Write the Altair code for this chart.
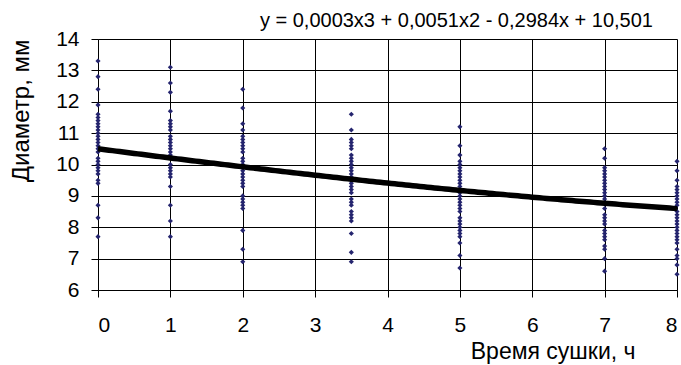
import altair as alt
import pandas as pd

# time points (h)
times = [0, 1, 2, 3.5, 5, 7, 8]

# diameters (mm) read at each time point
d_0 = [13.3, 12.8, 12.4, 11.9, 11.6, 11.5, 11.4, 11.3, 11.2, 11.1, 11.0, 10.9, 10.8, 10.7,
       10.6, 10.5, 10.4, 10.2, 10.1, 10.0, 9.9, 9.8, 9.7, 9.5, 9.4, 8.7, 8.3, 7.7]
d_1 = [13.1, 12.6, 12.3, 11.7, 11.4, 11.3, 11.2, 11.1, 10.9, 10.8, 10.7, 10.6, 10.5, 10.4,
       10.3, 10.2, 10.0, 9.9, 9.8, 9.7, 9.6, 9.3, 8.7, 8.2, 7.7]
d_2 = [12.4, 11.8, 11.3, 11.1, 10.9, 10.8, 10.7, 10.6, 10.5, 10.4, 10.2, 10.1, 10.0, 9.9,
       9.8, 9.7, 9.6, 9.5, 9.4, 9.3, 9.0, 8.9, 8.8, 8.7, 8.6, 7.9, 7.3, 6.9]
d_35 = [11.6, 11.1, 10.8, 10.7, 10.6, 10.5, 10.3, 10.2, 10.1, 10.0, 9.9, 9.8, 9.7, 9.6,
        9.5, 9.4, 9.3, 9.2, 9.1, 8.9, 8.8, 8.7, 8.5, 8.4, 8.3, 8.2, 7.8, 7.2, 6.9]
d_5 = [11.2, 10.6, 10.3, 10.1, 10.0, 9.9, 9.8, 9.7, 9.6, 9.5, 9.4, 9.3, 9.2, 9.1, 9.0,
       8.9, 8.8, 8.7, 8.6, 8.5, 8.3, 8.2, 8.1, 8.0, 7.9, 7.8, 7.7, 7.5, 7.1, 6.7]
d_7 = [10.5, 10.2, 9.9, 9.8, 9.7, 9.6, 9.5, 9.4, 9.3, 9.2, 9.1, 9.0, 8.9, 8.6, 8.4, 8.3,
       8.2, 8.1, 7.9, 7.8, 7.7, 7.6, 7.4, 7.3, 7.0, 6.6]
d_8 = [10.1, 9.8, 9.5, 9.3, 9.2, 9.1, 9.0, 8.9, 8.8, 8.7, 8.5, 8.4, 8.3, 8.2, 8.1, 8.0,
       7.9, 7.8, 7.7, 7.6, 7.5, 7.3, 7.1, 7.0, 6.8, 6.5]

series = [d_0, d_1, d_2, d_35, d_5, d_7, d_8]

# trendline coefficients (as printed on the chart): a3, a2, a1, a0
coeffs = [0.0003, 0.0051, -0.2984, 10.501]
equation = "y = 0,0003x3 + 0,0051x2 - 0,2984x + 10,501"

x_ticks = [0, 1, 2, 3, 4, 5, 6, 7, 8]
y_ticks = [6, 7, 8, 9, 10, 11, 12, 13, 14]

rows = []
for t, vals in zip(times, series):
    for v in vals:
        rows.append({"t": t, "d": v})
df = pd.DataFrame(rows)

FONT = "Liberation Sans"

xscale = alt.Scale(domain=[0, 8], nice=False, zero=False)
yscale = alt.Scale(domain=[6, 14], nice=False, zero=False)

xaxis = alt.Axis(values=x_ticks, format="d", title="Время сушки, ч", grid=True,
                 labelOverlap=False, labelFontSize=21, labelPadding=17,
                 titleX=537, titleY=68, titleAlign="right", titleBaseline="alphabetic",
                 titleFontSize=23, titleFontWeight="normal")
yaxis = alt.Axis(values=y_ticks, format="d", title="Диаметр, мм", grid=True,
                 labelOverlap=False, labelFontSize=21, labelPadding=12,
                 titleAnchor="end", titleX=-77, titleAngle=270,
                 titleBaseline="middle", titleFontSize=24, titleFontWeight="normal")

points = alt.Chart(df).mark_point(shape="diamond", filled=True, size=26,
                                  color="#24246e", opacity=1).encode(
    x=alt.X("t:Q", scale=xscale, axis=xaxis),
    y=alt.Y("d:Q", scale=yscale, axis=yaxis),
)

a3, a2, a1, a0 = coeffs
trend = alt.Chart(alt.sequence(0, 8.001, 0.05, as_="t")).transform_calculate(
    d=f"{a3}*pow(datum.t,3) + {a2}*pow(datum.t,2) + ({a1})*datum.t + {a0}"
).mark_line(color="black", strokeWidth=5.5).encode(
    x=alt.X("t:Q", scale=xscale, axis=xaxis),
    y=alt.Y("d:Q", scale=yscale, axis=yaxis),
)

eq_text = alt.Chart(pd.DataFrame({"label": [equation]})).mark_text(
    align="right", baseline="alphabetic", font=FONT, fontSize=20, color="black"
).encode(
    text="label:N",
    x=alt.value(555),
    y=alt.value(-12),
)

chart = alt.layer(points, trend, eq_text).properties(
    width=579, height=251,
    autosize=alt.AutoSizeParams(type="none"),
    padding={"left": 98, "top": 39, "right": 4, "bottom": 75},
).configure_view(stroke=None).configure_axis(
    labelFont=FONT, titleFont=FONT, labelColor="black",
    titleColor="black", gridColor="black", gridWidth=1, gridOpacity=1,
    domainColor="black", tickColor="black", tickSize=7, domainWidth=1,
)

chart.save("out.html", embed_options={"renderer": "svg", "actions": False})
